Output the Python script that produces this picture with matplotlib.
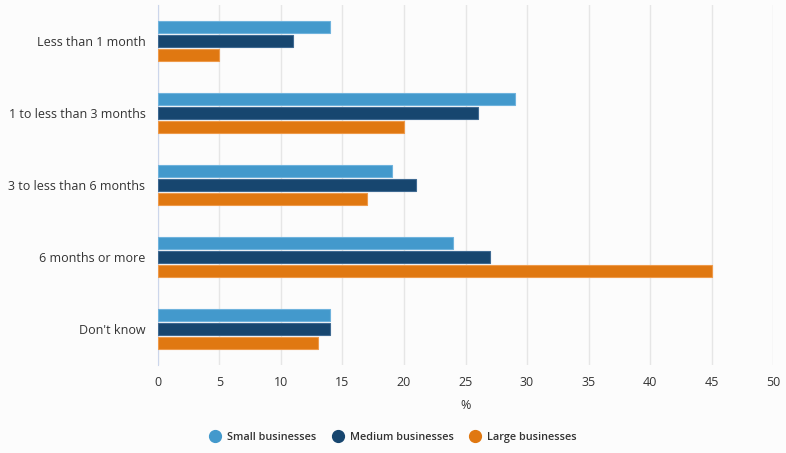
import numpy as np
import matplotlib.pyplot as plt
from matplotlib.lines import Line2D

categories = ["Less than 1 month", "1 to less than 3 months", "3 to less than 6 months",
              "6 months or more", "Don't know"]
small = [14, 29, 19, 24, 14]
medium = [11, 26, 21, 27, 14]
large = [5, 20, 17, 45, 13]
series_names = ["Small businesses", "Medium businesses", "Large businesses"]
colors = ["#4399cc", "#17466f", "#e07811"]
edges = ["#6fb3dd", "#3f6a92", "#ee9a4a"]

plt.rcParams['font.family'] = ['Open Sans', 'DejaVu Sans']

fig = plt.figure(figsize=(7.86, 4.53), dpi=100, facecolor="#fcfcfc")
ax = fig.add_axes([0.201, 0.194, 0.7825, 0.795])
ax.set_facecolor("#fcfcfc")

y = np.arange(len(categories))
h = 0.167
off = 0.194
for i, vals in enumerate([small, medium, large]):
    ax.barh(y + (i - 1) * off, vals, height=h, color=colors[i],
            edgecolor=edges[i], linewidth=0.8, zorder=3)

ax.set_ylim(len(categories) - 0.5, -0.5)
ax.set_xlim(0, 50)
ax.set_xticks(range(0, 51, 5))
ax.set_yticks(y)
ax.set_yticklabels(categories, fontsize=9, color="#333333")
ax.tick_params(axis='x', labelsize=9, colors="#333333", length=0, pad=8)
ax.tick_params(axis='y', length=0, pad=9)
ax.grid(axis='x', color="#e6e6e6", linewidth=1, zorder=0)
for s in ["top", "right", "bottom"]:
    ax.spines[s].set_visible(False)
ax.spines["left"].set_color("#ccd6eb")
ax.set_xlabel("%", fontsize=9, color="#333333", labelpad=7)

handles = [Line2D([], [], marker='o', linestyle='', markersize=8.5, color=c) for c in colors]
leg = fig.legend(handles, series_names, loc='center', bbox_to_anchor=(0.497, 0.035), ncol=3,
                 frameon=False, fontsize=7.8, handletextpad=0.1, columnspacing=1.0)
for t in leg.get_texts():
    t.set_fontweight('semibold')
    t.set_color("#333333")

fig.savefig("out.png", dpi=100, facecolor=fig.get_facecolor())
